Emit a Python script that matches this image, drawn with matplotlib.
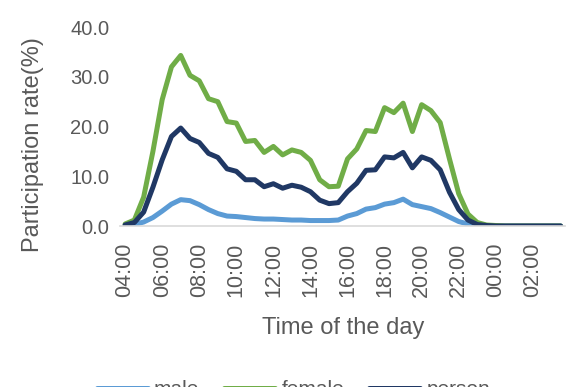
import numpy as np
import matplotlib
matplotlib.use("Agg")
import matplotlib.pyplot as plt

# Half-hourly participation rate (%), 04:00 through 03:30 the next day
times = ["04:00", "04:30", "05:00", "05:30", "06:00", "06:30", "07:00", "07:30",
         "08:00", "08:30", "09:00", "09:30", "10:00", "10:30", "11:00", "11:30",
         "12:00", "12:30", "13:00", "13:30", "14:00", "14:30", "15:00", "15:30",
         "16:00", "16:30", "17:00", "17:30", "18:00", "18:30", "19:00", "19:30",
         "20:00", "20:30", "21:00", "21:30", "22:00", "22:30", "23:00", "23:30",
         "00:00", "00:30", "01:00", "01:30", "02:00", "02:30", "03:00", "03:30"]

male = [0.1, 0.3, 0.8, 1.7, 3.0, 4.4, 5.3, 5.1, 4.3, 3.3,
        2.5, 2.0, 1.9, 1.7, 1.5, 1.4, 1.4, 1.3, 1.2, 1.2,
        1.1, 1.1, 1.1, 1.2, 2.0, 2.5, 3.4, 3.7, 4.4, 4.7,
        5.4, 4.3, 3.9, 3.5, 2.7, 1.8, 0.9, 0.4, 0.1, 0.0,
        0.0, 0.0, 0.0, 0.0, 0.0, 0.0, 0.0, 0.0]

female = [0.4, 1.2, 5.8, 15.0, 25.4, 32.0, 34.3, 30.3, 29.2, 25.6,
          25.0, 21.0, 20.7, 17.0, 17.2, 14.8, 16.0, 14.3, 15.3, 14.8,
          13.2, 9.3, 7.9, 8.0, 13.5, 15.5, 19.2, 19.0, 23.8, 22.8,
          24.7, 19.0, 24.4, 23.2, 20.8, 13.5, 6.5, 2.4, 0.7, 0.2,
          0.1, 0.0, 0.0, 0.0, 0.0, 0.0, 0.0, 0.0]

person = [0.2, 0.7, 2.8, 7.8, 13.3, 18.0, 19.7, 17.6, 16.8, 14.6,
          13.8, 11.5, 11.0, 9.3, 9.3, 7.9, 8.5, 7.6, 8.2, 7.8,
          6.9, 5.2, 4.5, 4.7, 6.9, 8.6, 11.2, 11.3, 13.9, 13.7,
          14.8, 11.7, 13.9, 13.2, 11.3, 6.8, 3.3, 1.2, 0.3, 0.1,
          0.0, 0.0, 0.0, 0.0, 0.0, 0.0, 0.0, 0.0]

yticks = [0, 10, 20, 30, 40]
label_every = 4

text_color = "#595959"
fig = plt.figure(figsize=(5.71, 3.87), dpi=100)
ax = fig.add_axes([0.211, 0.416, 0.779, 0.514])

x = np.arange(len(times))
for vals, name, col in [(male, "male", "#5B9BD5"),
                        (female, "female", "#70AD47"),
                        (person, "person", "#203864")]:
    ax.plot(x, vals, color=col, lw=3.6, label=name,
            solid_joinstyle="round", solid_capstyle="round")

ax.set_xlim(-0.5, len(times) - 0.5)
ax.set_ylim(0, 40)
ax.set_yticks(yticks)
ax.set_yticklabels([f"{v:.1f}" for v in yticks], family="Liberation Sans",
                   fontsize=14.5, color=text_color)
ax.set_xticks(x[::label_every])
ax.set_xticklabels(times[::label_every], rotation=90, fontsize=15.5,
                   family=["Liberation Sans Narrow", "Liberation Sans"], color=text_color)
ax.tick_params(axis="both", length=0)
ax.tick_params(axis="x", pad=12)
ax.tick_params(axis="y", pad=8)

for s in ["top", "right", "left"]:
    ax.spines[s].set_visible(False)
ax.spines["bottom"].set_color("#D9D9D9")
ax.spines["bottom"].set_linewidth(1.2)

ax.set_xlabel("Time of the day", fontsize=17, color=text_color,
              family=["Liberation Sans Narrow", "Liberation Sans"], labelpad=14)
ax.set_ylabel("Participation rate(%)", fontsize=17, color=text_color,
              family="Liberation Sans")
ax.yaxis.set_label_coords(-0.172, 0.41)

fig.legend(loc="center", bbox_to_anchor=(0.514, -0.006), ncol=3, frameon=False,
           prop={"family": "Liberation Sans", "size": 15}, labelcolor=text_color,
           handlelength=2.45, handletextpad=0.3, columnspacing=1.2)

fig.savefig("out.png", dpi=100)
